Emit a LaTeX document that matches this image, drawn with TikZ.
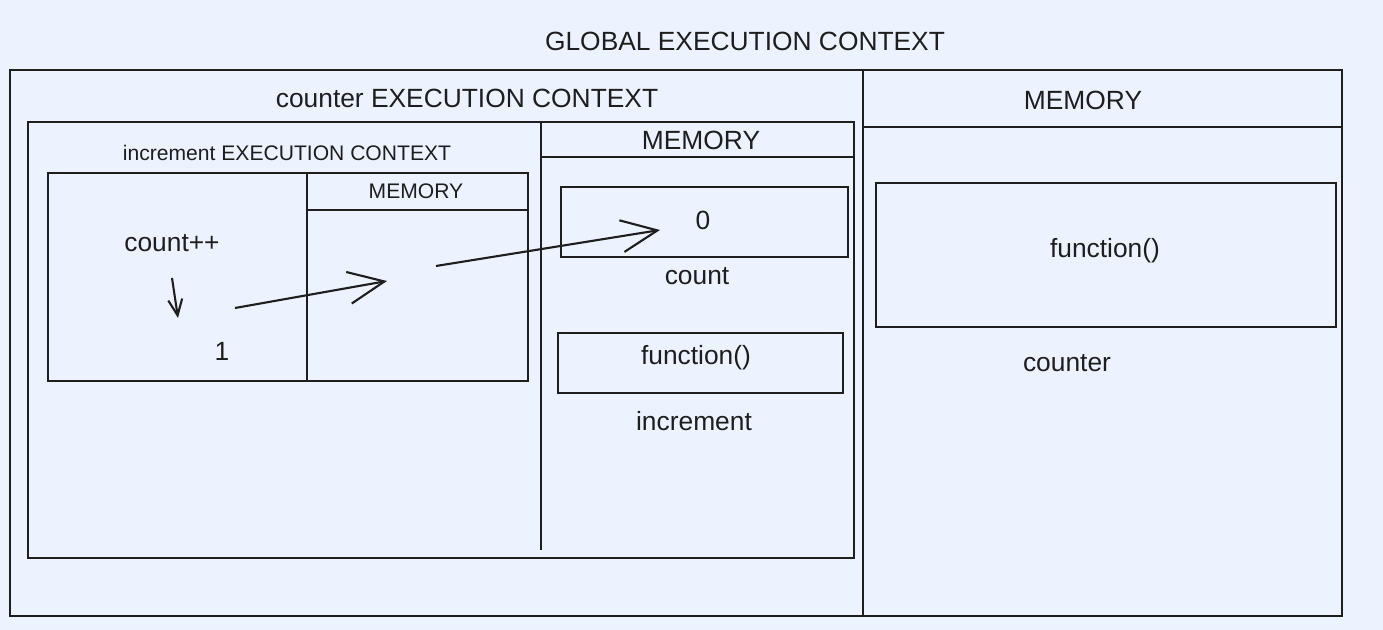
\documentclass[tikz,border=0pt]{standalone}
\usepackage{fontspec}
\setmainfont{Liberation Sans}
\usetikzlibrary{arrows.meta}
\definecolor{bgblue}{RGB}{236,242,254}
\definecolor{inkgray}{RGB}{30,30,30}

\tikzset{
  box/.style={draw=inkgray, line width=0.6pt, inner sep=0pt, anchor=north west},
  lbl/.style={font=\fontsize{7.5}{9}\selectfont, text=inkgray, inner sep=1pt},
  smalllbl/.style={font=\fontsize{6}{7.5}\selectfont, text=inkgray, inner sep=1pt},
  sep/.style={draw=inkgray, line width=0.6pt},
  ptr/.style={draw=inkgray, line width=0.6pt, -{Straight Barb[length=3.6mm, width=3.2mm, line width=0.6pt]}}
}

\begin{document}
\begin{tikzpicture}
	\fill[bgblue] (0,0) rectangle (13.83,-6.30);
	\useasboundingbox (0,0) rectangle (13.83,-6.30);
	
	% global execution context
	\node[lbl] (globaltitle) at (7.45,-0.41) {GLOBAL EXECUTION CONTEXT};
	\node[box, minimum width=13.32cm, minimum height=5.46cm] (global) at (0.09,-0.69) {};
	\draw[sep] (8.63,-0.69) -- (8.63,-6.15);
	\draw[sep] (8.63,-1.27) -- (13.41,-1.27);
	\node[lbl] (globalmem) at (10.83,-1.00) {MEMORY};
	\node[box, minimum width=4.60cm, minimum height=1.44cm] (counterval) at (8.75,-1.82) {};
	\node[lbl] (counterfn) at (11.05,-2.51) {function()};
	\node[lbl] (countername) at (10.67,-3.63) {counter};
	
	% counter execution context
	\node[lbl] (countertitle) at (4.67,-0.98) {counter EXECUTION CONTEXT};
	\node[box, minimum width=8.26cm, minimum height=4.36cm] (counterec) at (0.27,-1.21) {};
	\draw[sep] (5.41,-1.21) -- (5.41,-5.50);
	\draw[sep] (5.41,-1.57) -- (8.53,-1.57);
	\node[lbl] (countermem) at (7.01,-1.40) {MEMORY};
	\node[box, minimum width=2.87cm, minimum height=0.70cm] (countval) at (5.60,-1.86) {};
	\node[lbl] (zero) at (7.03,-2.20) {0};
	\node[lbl] (countname) at (6.97,-2.76) {count};
	\node[box, minimum width=2.85cm, minimum height=0.60cm] (incval) at (5.57,-3.32) {};
	\node[lbl] (incfn) at (6.96,-3.58) {function()};
	\node[lbl] (incname) at (6.94,-4.21) {increment};
	
	% increment execution context
	\node[smalllbl] (inctitle) at (2.87,-1.53) {increment EXECUTION CONTEXT};
	\node[box, minimum width=4.80cm, minimum height=2.08cm] (incec) at (0.47,-1.72) {};
	\draw[sep] (3.07,-1.72) -- (3.07,-3.80);
	\draw[sep] (3.07,-2.10) -- (5.27,-2.10);
	\node[smalllbl] (incmem) at (4.16,-1.91) {MEMORY};
	\node[lbl] (countpp) at (1.72,-2.43) {count++};
	\node[lbl] (one) at (2.22,-3.51) {1};
	
	% pointers
	\coordinate (stepfrom) at (1.72,-2.78);
	\coordinate (stepto) at (1.78,-3.18);
	\coordinate (onestart) at (2.35,-3.08);
	\coordinate (oneend) at (3.87,-2.81);
	\coordinate (refstart) at (4.36,-2.66);
	\coordinate (refend) at (6.60,-2.30);
	\draw[ptr, -{Straight Barb[length=1.6mm, width=1.4mm, line width=0.6pt]}] (stepfrom) -- (stepto);
	\draw[ptr] (onestart) -- (oneend);
	\draw[ptr] (refstart) -- (refend);
\end{tikzpicture}
\end{document}
